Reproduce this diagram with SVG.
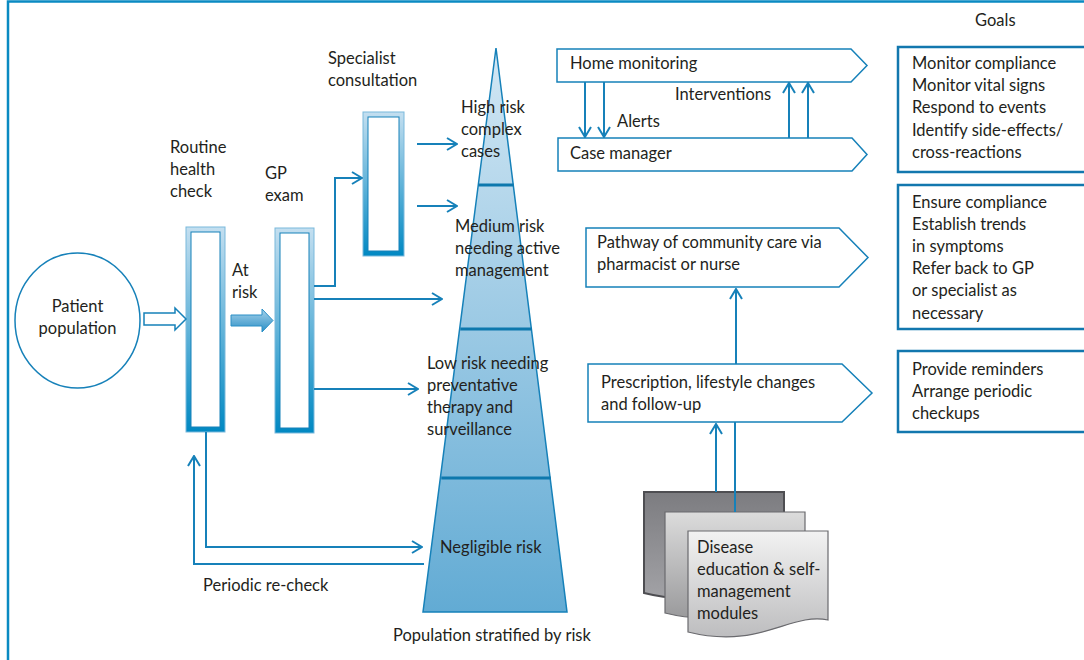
<svg xmlns="http://www.w3.org/2000/svg" width="1084" height="660" viewBox="0 0 1084 660">
  <style>
    text { font-family: "Lato", "Open Sans", "Liberation Sans", sans-serif; font-size: 16.5px; fill: #231f20; }
    .ln { fill: none; stroke: #1681b9; stroke-width: 2; }
    .tag { fill: #ffffff; stroke: #1681b9; stroke-width: 1.5; }
    .goal { fill: none; stroke: #1277ae; stroke-width: 2.5; }
    .div { stroke: #0d78ad; stroke-width: 3; }
  </style>
  <defs>
    <marker id="open" viewBox="0 0 12 14" refX="11" refY="7" markerWidth="12" markerHeight="14" markerUnits="userSpaceOnUse" orient="auto">
      <path d="M1,1 L11,7 L1,13" fill="none" stroke="#1681b9" stroke-width="2"/>
    </marker>
    <linearGradient id="barGrad" x1="0" y1="0" x2="0" y2="1">
      <stop offset="0" stop-color="#c4dff0"/>
      <stop offset="1" stop-color="#0088c2"/>
    </linearGradient>
    <linearGradient id="triGrad" x1="0" y1="0" x2="0" y2="1">
      <stop offset="0" stop-color="#d3e7f4"/>
      <stop offset="1" stop-color="#62abd4"/>
    </linearGradient>
    <linearGradient id="arrowGrad" x1="0" y1="0" x2="0" y2="1">
      <stop offset="0" stop-color="#a8d2ea"/>
      <stop offset="1" stop-color="#2a8fc6"/>
    </linearGradient>
    <linearGradient id="docBack" x1="0" y1="0" x2="0" y2="1">
      <stop offset="0" stop-color="#7c7c80"/>
      <stop offset="1" stop-color="#a2a2a6"/>
    </linearGradient>
    <linearGradient id="docMid" x1="0" y1="0" x2="0" y2="1">
      <stop offset="0" stop-color="#dcdcdc"/>
      <stop offset="1" stop-color="#9a9a9c"/>
    </linearGradient>
    <linearGradient id="docFront" x1="0" y1="0" x2="0" y2="1">
      <stop offset="0" stop-color="#f2f2f2"/>
      <stop offset="1" stop-color="#bdbdbf"/>
    </linearGradient>
  </defs>

  <rect width="1084" height="660" fill="#ffffff"/>
  <!-- outer frame (top and left edges) -->
  <path d="M8,660 V1.5 H1084" fill="none" stroke="#0a8ac2" stroke-width="2.5"/>

  <!-- patient population -->
  <g id="patient-population">
    <ellipse cx="77.5" cy="320.5" rx="62.5" ry="67.5" fill="#ffffff" stroke="#1681b9" stroke-width="1.5"/>
    <text x="77.5" y="312" text-anchor="middle">Patient</text>
    <text x="77.5" y="334" text-anchor="middle">population</text>
  </g>

  <!-- routine health check -->
  <g id="routine-health-check">
    <rect x="186" y="227" width="39" height="205" fill="url(#barGrad)" stroke="#7ab9dc" stroke-width="1"/>
    <rect x="191" y="232" width="29" height="195" fill="#ffffff" stroke="#1681b9" stroke-width="1"/>
    <text x="170" y="153">Routine</text>
    <text x="170" y="175">health</text>
    <text x="170" y="197">check</text>
  </g>

  <!-- GP exam -->
  <g id="gp-exam">
    <rect x="275" y="228" width="39" height="205" fill="url(#barGrad)" stroke="#7ab9dc" stroke-width="1"/>
    <rect x="280" y="233" width="29" height="195" fill="#ffffff" stroke="#1681b9" stroke-width="1"/>
    <text x="265" y="179">GP</text>
    <text x="265" y="201">exam</text>
  </g>

  <!-- specialist consultation -->
  <g id="specialist-consultation">
    <rect x="363" y="112" width="41" height="144" fill="url(#barGrad)" stroke="#7ab9dc" stroke-width="1"/>
    <rect x="368" y="117" width="31" height="134" fill="#ffffff" stroke="#1681b9" stroke-width="1"/>
    <text x="328" y="64">Specialist</text>
    <text x="328" y="86">consultation</text>
  </g>

  <!-- population stratified by risk -->
  <g id="risk-pyramid">
    <polygon points="496,48 567,612 423,612" fill="url(#triGrad)" stroke="#1681b9" stroke-width="1.5"/>
    <line class="div" x1="478.5" y1="185" x2="513.5" y2="185"/>
    <line class="div" x1="460.3" y1="329" x2="531.7" y2="329"/>
    <line class="div" x1="441.3" y1="478" x2="550.7" y2="478"/>
    <text x="461" y="113">High risk</text>
    <text x="461" y="135">complex</text>
    <text x="461" y="157">cases</text>
    <text x="455" y="232">Medium risk</text>
    <text x="455" y="254">needing active</text>
    <text x="455" y="276">management</text>
    <text x="427" y="369">Low risk needing</text>
    <text x="427" y="391">preventative</text>
    <text x="427" y="413">therapy and</text>
    <text x="427" y="435">surveillance</text>
    <text x="440" y="553">Negligible risk</text>
    <text x="393" y="641">Population stratified by risk</text>
  </g>

  <!-- home monitoring -->
  <g id="home-monitoring">
    <path class="tag" d="M557,49 H851 L867,65.5 L851,82 H557 Z"/>
    <text x="570" y="69">Home monitoring</text>
  </g>

  <!-- case manager -->
  <g id="case-manager">
    <path class="tag" d="M558,138 H852 L867,154.5 L852,171 H558 Z"/>
    <text x="570" y="159">Case manager</text>
  </g>

  <!-- community care pathway -->
  <g id="community-care">
    <path class="tag" d="M586,228 H839 L868,257.5 L839,287 H586 Z"/>
    <text x="597" y="248">Pathway of community care via</text>
    <text x="597" y="270">pharmacist or nurse</text>
  </g>

  <!-- prescription -->
  <g id="prescription">
    <path class="tag" d="M588,364 H842 L872,393 L842,422 H588 Z"/>
    <text x="601" y="388">Prescription, lifestyle changes</text>
    <text x="601" y="410">and follow-up</text>
  </g>

  <!-- education modules -->
  <g id="education-modules">
    <path d="M644,492 H784 V581 C746,573 716,611 644,593 Z" fill="url(#docBack)" stroke="#4e4e52" stroke-width="2"/>
    <path d="M665,512 H805 V601 C767,593 737,631 665,613 Z" fill="url(#docMid)" stroke="#6a6a6e" stroke-width="1.2"/>
    <path d="M688,531 H828 V620 C790,612 760,650 688,632 Z" fill="url(#docFront)" stroke="#6a6a6e" stroke-width="1.2"/>
    <text x="697" y="553">Disease</text>
    <text x="697" y="575">education &amp; self-</text>
    <text x="697" y="597">management</text>
    <text x="697" y="619">modules</text>
  </g>

  <!-- goals -->
  <g id="goals">
    <text x="975" y="26">Goals</text>
  </g>
  <g id="goals-monitoring">
    <path class="goal" d="M1084,47 H898 V172 H1084"/>
    <text x="912" y="69">Monitor compliance</text>
    <text x="912" y="91">Monitor vital signs</text>
    <text x="912" y="113">Respond to events</text>
    <text x="912" y="136">Identify side-effects/</text>
    <text x="912" y="158">cross-reactions</text>
  </g>
  <g id="goals-community">
    <path class="goal" d="M1084,185 H898 V329 H1084"/>
    <text x="912" y="208">Ensure compliance</text>
    <text x="912" y="230">Establish trends</text>
    <text x="912" y="252">in symptoms</text>
    <text x="912" y="274">Refer back to GP</text>
    <text x="912" y="296">or specialist as</text>
    <text x="912" y="319">necessary</text>
  </g>
  <g id="goals-prescription">
    <path class="goal" d="M1084,351 H898 V432 H1084"/>
    <text x="912" y="375">Provide reminders</text>
    <text x="912" y="397">Arrange periodic</text>
    <text x="912" y="419">checkups</text>
  </g>

  <!-- connectors -->
  <g id="connectors">
    <!-- population into routine check -->
    <path d="M144,313 H175 V308 L186,319 L175,330 V325 H144 Z" fill="#ffffff" stroke="#1681b9" stroke-width="1.5"/>
    <!-- at risk into GP exam -->
    <path d="M231,315 H262 V309 L273,320.5 L262,332 V326 H231 Z" fill="url(#arrowGrad)" stroke="#2a8fc6" stroke-width="1"/>
    <text x="232" y="276">At</text>
    <text x="232" y="298">risk</text>

    <!-- GP exam outputs -->
    <path class="ln" d="M314,286 H335 V178 H362" marker-end="url(#open)"/>
    <path class="ln" d="M314,299 H442" marker-end="url(#open)"/>
    <path class="ln" d="M314,389 H418" marker-end="url(#open)"/>

    <!-- specialist outputs -->
    <path class="ln" d="M417,144 H457" marker-end="url(#open)"/>
    <path class="ln" d="M417,206 H457" marker-end="url(#open)"/>

    <!-- routine check to negligible risk, and periodic re-check back -->
    <path class="ln" d="M206,432 V547 H422" marker-end="url(#open)"/>
    <path class="ln" d="M424,564 H194 V456" marker-end="url(#open)"/>
    <text x="203" y="591">Periodic re-check</text>

    <!-- alerts and interventions -->
    <path class="ln" d="M585,82 V137" marker-end="url(#open)"/>
    <path class="ln" d="M604,82 V137" marker-end="url(#open)"/>
    <text x="617" y="127">Alerts</text>
    <path class="ln" d="M789,138 V83" marker-end="url(#open)"/>
    <path class="ln" d="M808,138 V83" marker-end="url(#open)"/>
    <text x="675" y="100">Interventions</text>

    <!-- prescription up to community pathway -->
    <path class="ln" d="M736,364 V289" marker-end="url(#open)"/>
    <!-- modules up to prescription -->
    <path class="ln" d="M716,492 V424" marker-end="url(#open)"/>
    <path class="ln" d="M735,512 V422"/>
  </g>
</svg>
